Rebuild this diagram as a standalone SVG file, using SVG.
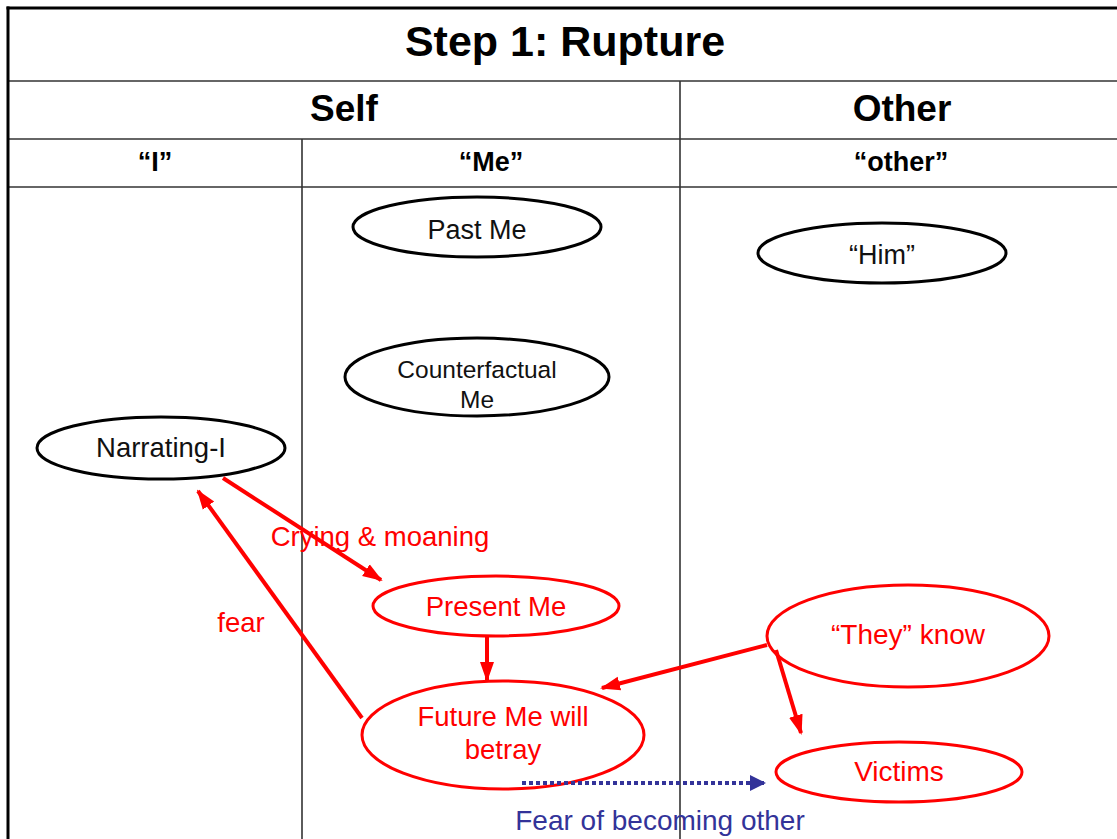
<svg xmlns="http://www.w3.org/2000/svg" width="1117" height="839" viewBox="0 0 1117 839">
<style>
.t{font-family:"Liberation Sans",Arial,sans-serif;text-anchor:middle}
.h{font-weight:bold;fill:#000}
.bn ellipse{fill:#fff;stroke:#000;stroke-width:3}
.rn ellipse{fill:#fff;stroke:#ff0000;stroke-width:3}
.bn text{fill:#111}
.rn text{fill:#ff0000}
.grid line{stroke:#333;stroke-width:1.6}
.rc{stroke:#ff0000;stroke-width:4;fill:none;marker-end:url(#ra)}
</style>
<defs>
<marker id="ra" markerUnits="userSpaceOnUse" markerWidth="20" markerHeight="20" viewBox="0 0 20 20" refX="18" refY="10" orient="auto">
<path d="M0,3 L20,10 L0,17 z" fill="#ff0000"/>
</marker>
<marker id="ba" markerUnits="userSpaceOnUse" markerWidth="20" markerHeight="20" viewBox="0 0 20 20" refX="16" refY="10" orient="auto">
<path d="M0,2 L16,10 L0,18 z" fill="#333399"/>
</marker>
</defs>
<rect width="1117" height="839" fill="#fff"/>
<g id="table" class="grid">
<line x1="8" y1="81" x2="1117" y2="81"/>
<line x1="8" y1="139" x2="1117" y2="139"/>
<line x1="8" y1="187" x2="1117" y2="187"/>
<line x1="302" y1="139" x2="302" y2="839"/>
<line x1="680" y1="81" x2="680" y2="839"/>
<line x1="6.5" y1="8" x2="1117" y2="8" style="stroke:#000;stroke-width:3"/>
<line x1="8" y1="6.5" x2="8" y2="839" style="stroke:#000;stroke-width:3"/>
</g>
<g id="headers" class="t h">
<text x="565" y="56" font-size="43">Step 1: Rupture</text>
<text x="344" y="121" font-size="37">Self</text>
<text x="902" y="121" font-size="37">Other</text>
<text x="155" y="171" font-size="27">“I”</text>
<text x="491" y="171" font-size="27">“Me”</text>
<text x="901" y="171" font-size="27">“other”</text>
</g>
<g id="past-me" class="bn t">
<ellipse cx="477" cy="227" rx="124" ry="30"/>
<text x="477" y="239" font-size="27">Past Me</text>
</g>
<g id="counterfactual-me" class="bn t">
<ellipse cx="477" cy="377" rx="132" ry="39"/>
<text x="477" y="378" font-size="24.5">Counterfactual</text>
<text x="477" y="408" font-size="24.5">Me</text>
</g>
<g id="him" class="bn t">
<ellipse cx="882" cy="253" rx="124" ry="30"/>
<text x="882" y="264" font-size="27">“Him”</text>
</g>
<g id="narrating-i" class="bn t">
<ellipse cx="161" cy="448" rx="124" ry="31"/>
<text x="161" y="457" font-size="27.5">Narrating-I</text>
</g>
<g id="present-me" class="rn t">
<ellipse cx="496" cy="606" rx="123" ry="30"/>
<text x="496" y="616" font-size="27.5">Present Me</text>
</g>
<g id="future-me" class="rn t">
<ellipse cx="503" cy="735" rx="141" ry="54"/>
<text x="503" y="726" font-size="27.5">Future Me will</text>
<text x="503" y="759" font-size="27.5">betray</text>
</g>
<g id="they-know" class="rn t">
<ellipse cx="908" cy="636" rx="141" ry="51"/>
<text x="908" y="644" font-size="28">“They” know</text>
</g>
<g id="victims" class="rn t">
<ellipse cx="899" cy="772" rx="123" ry="30"/>
<text x="899" y="781" font-size="28">Victims</text>
</g>
<g id="connectors">
<line class="rc" x1="223" y1="478" x2="381" y2="580"/>
<line class="rc" x1="362" y1="718" x2="198" y2="491"/>
<line class="rc" x1="487" y1="636" x2="487" y2="680"/>
<line class="rc" x1="767" y1="645" x2="602" y2="688"/>
<line class="rc" x1="776" y1="650" x2="801" y2="733"/>
<line x1="522" y1="783" x2="766" y2="783" stroke="#333399" stroke-width="4" stroke-dasharray="4,3" marker-end="url(#ba)"/>
<text class="t" x="380" y="546" font-size="27.5" fill="#ff0000">Crying &amp; moaning</text>
<text class="t" x="241" y="632" font-size="27.5" fill="#ff0000">fear</text>
<text class="t" x="660" y="830" font-size="28" fill="#333399">Fear of becoming other</text>
</g>
</svg>
